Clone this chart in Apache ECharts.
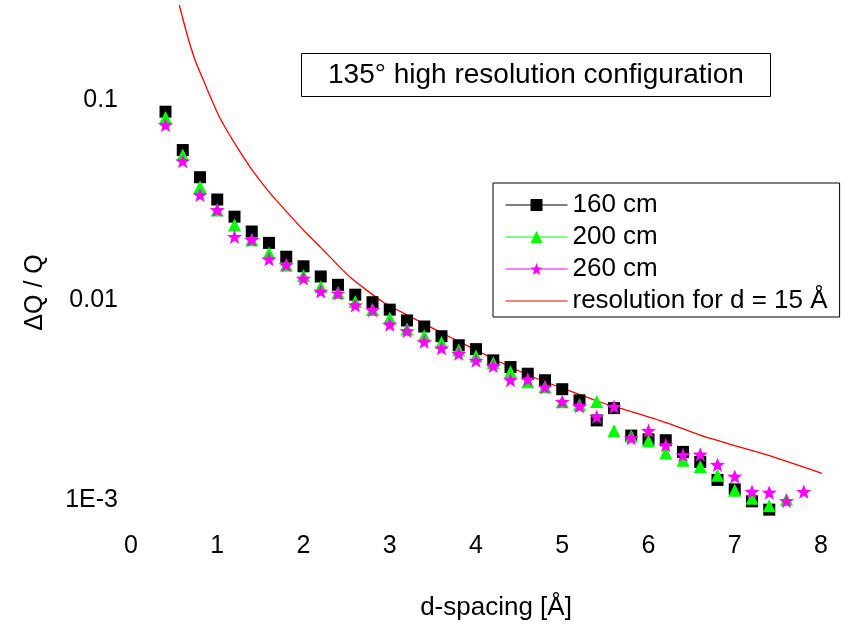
<!DOCTYPE html>
<html>
<head>
<meta charset="utf-8">
<title>135° high resolution configuration</title>
<script src="https://cdn.jsdelivr.net/npm/echarts@6/dist/echarts.min.js"></script>
<style>
    html, body { margin: 0; padding: 0; background: #fff; }
    #chart { width: 849px; height: 630px; }
</style>
</head>
<body>
<div id="chart"></div>
<script>
// d-spacing [Å] of the measured points
var dSpacing = [
    0.4, 0.6, 0.8, 1.0, 1.2, 1.4, 1.6, 1.8, 2.0, 2.2, 2.4, 2.6, 2.8,
    3.0, 3.2, 3.4, 3.6, 3.8, 4.0, 4.2, 4.4, 4.6, 4.8, 5.0, 5.2, 5.4,
    5.6, 5.8, 6.0, 6.2, 6.4, 6.6, 6.8, 7.0, 7.2, 7.4, 7.6, 7.8
];

// dQ/Q per detector distance (null = no point)
var res160 = [
    0.0874, 0.0562, 0.0411, 0.0318, 0.0261, 0.0220, 0.0193, 0.01646, 0.01474, 0.01311, 0.01191, 0.01063, 0.00975,
    0.00895, 0.00790, 0.00737, 0.00659, 0.00594, 0.00568, 0.00499, 0.00462, 0.00428, 0.00397, 0.00358, 0.00315, 0.00250,
    0.00288, 0.00210, 0.00201, 0.00199, 0.00174, 0.00155, 0.00126, 0.00113, 0.000985, 0.000895, null, null
];
var res200 = [
    0.0818, 0.0531, 0.0367, 0.0282, 0.0237, 0.0200, 0.0172, 0.01496, 0.01326, 0.01165, 0.01090, 0.00983, 0.00897,
    0.00813, 0.00716, 0.00662, 0.00613, 0.00562, 0.00525, 0.00486, 0.00438, 0.00390, 0.00368, 0.00310, 0.00299, 0.00311,
    0.00222, 0.00209, 0.00198, 0.00172, 0.00158, 0.00147, 0.00133, 0.00112, 0.00102, 0.000935, 0.00101, null
];
var res260 = [
    0.0750, 0.0495, 0.0335, 0.0282, 0.0207, 0.0200, 0.0160, 0.01496, 0.01281, 0.01103, 0.01080, 0.00941, 0.00891,
    0.00754, 0.00700, 0.00619, 0.00574, 0.00539, 0.00498, 0.00468, 0.00398, 0.00401, 0.00366, 0.00310, 0.00295, 0.00261,
    0.00293, 0.00204, 0.00222, 0.00188, 0.00168, 0.00169, 0.00150, 0.00131, 0.00110, 0.00109, 0.00099, 0.00110
];

// resolution curve for d = 15 Å
var curveD = [
    0.560, 0.646, 0.742, 0.838, 0.936, 1.032, 1.226, 1.418, 1.612, 1.805, 1.998, 2.191, 2.539,
    2.922, 3.316, 3.699, 4.278, 4.661, 5.055, 5.438, 5.820, 6.214, 6.597, 6.980, 7.374, 8.01
];
var curveValues = [
    0.2985, 0.2156, 0.1585, 0.1259, 0.1, 0.0810, 0.0584, 0.0438, 0.0342, 0.0276, 0.0224, 0.01847, 0.01303,
    0.00977, 0.00794, 0.00653, 0.0049, 0.00412, 0.00355, 0.00309, 0.00275, 0.00243, 0.00211, 0.00188, 0.00168, 0.00136
];

var seriesNames = ['160 cm', '200 cm', '260 cm', 'resolution for d = 15 Å'];
var yTicks = [0.001, 0.01, 0.1];
var yTickLabels = ['1E-3', '0.01', '0.1'];

var FONT = 'Liberation Sans, Arial, sans-serif';
var STAR = 'path://M0,-10 L2.47,-3.4 L9.51,-3.09 L3.99,1.3 L5.88,8.09 L0,4.2 '
    + 'L-5.88,8.09 L-3.99,1.3 L-9.51,-3.09 L-2.47,-3.4 Z';

/**
 * pair x values with y values, skipping missing points
 *
 * @param {number[]} xs x values
 * @param {Array} ys y values
 * @return {Array} [x, y] pairs
 */
function pairs(xs, ys) {
    var out = [];
    for (var i = 0; i < ys.length; ++i) {
        if (ys[i] != null) {
            out.push([xs[i], ys[i]]);
        }
    }
    return out;
}

/**
 * marker-only series that still shows a line in the legend
 */
function markerSeries(name, values, color, symbol, size) {
    return {
        type: 'line',
        name: name,
        data: pairs(dSpacing, values),
        symbol: symbol,
        symbolSize: size,
        symbolKeepAspect: true,
        showAllSymbol: true,
        lineStyle: { width: 0, color: color },
        itemStyle: { color: color, borderWidth: 0 },
        emphasis: { disabled: true }
    };
}

var chart = echarts.init(document.getElementById('chart'));

chart.setOption({
    animation: false,
    backgroundColor: '#fff',
    textStyle: { fontFamily: FONT, color: '#000' },
    title: {
        text: '135° high resolution configuration',
        left: 301,
        top: 53,
        padding: [7, 27, 7, 27],
        borderColor: '#000',
        borderWidth: 1,
        textStyle: { fontFamily: FONT, fontSize: 28, fontWeight: 'normal', color: '#000', lineHeight: 30 }
    },
    legend: {
        orient: 'vertical',
        left: 493,
        top: 183,
        padding: [9, 12, 3, 12],
        borderColor: '#000',
        borderWidth: 1,
        itemWidth: 62,
        itemHeight: 15,
        itemGap: 6,
        selectedMode: false,
        textStyle: { fontFamily: FONT, fontSize: 26, color: '#000', lineHeight: 26 },
        data: [
            { name: seriesNames[0], lineStyle: { width: 1, color: '#000' }, itemStyle: { borderWidth: 0 } },
            { name: seriesNames[1], lineStyle: { width: 1, color: '#00ff00' }, itemStyle: { borderWidth: 0 } },
            { name: seriesNames[2], lineStyle: { width: 1, color: '#ff00ff' }, itemStyle: { borderWidth: 0 } },
            { name: seriesNames[3], lineStyle: { width: 1, color: '#ff0000' }, itemStyle: { opacity: 0 } }
        ]
    },
    grid: { left: 131, right: 28, top: 5, bottom: 110, containLabel: false },
    xAxis: {
        type: 'value',
        min: 0,
        max: 8,
        interval: 1,
        name: 'd-spacing [Å]',
        nameLocation: 'middle',
        nameGap: 75,
        nameTextStyle: { fontFamily: FONT, fontSize: 26, color: '#000', padding: [0, 0, 0, 40] },
        axisLine: { show: false },
        axisTick: { show: false },
        splitLine: { show: false },
        axisLabel: { fontFamily: FONT, fontSize: 25, color: '#000', margin: 14 }
    },
    yAxis: {
        type: 'log',
        logBase: 10,
        min: Math.pow(10, -3.1),
        max: Math.pow(10, -0.525),
        name: 'ΔQ / Q',
        nameLocation: 'middle',
        nameGap: 83,
        nameTextStyle: { fontFamily: FONT, fontSize: 25, color: '#000', padding: [0, 60, 0, 0] },
        axisLine: { show: false },
        axisTick: { show: false },
        splitLine: { show: false },
        axisLabel: {
            fontFamily: FONT,
            fontSize: 25,
            color: '#000',
            margin: 13,
            showMinLabel: false,
            showMaxLabel: false,
            formatter: function (v) {
                for (var i = 0; i < yTicks.length; ++i) {
                    if (Math.abs(Math.log(v / yTicks[i])) < 1e-6) {
                        return yTickLabels[i];
                    }
                }
                return '';
            }
        }
    },
    series: [
        markerSeries(seriesNames[0], res160, '#000000', 'rect', 12),
        markerSeries(seriesNames[1], res200, '#00ff00', 'triangle', 13),
        markerSeries(seriesNames[2], res260, '#ff00ff', STAR, 15),
        {
            type: 'line',
            name: seriesNames[3],
            data: pairs(curveD, curveValues),
            symbol: 'none',
            smooth: 0.2,
            lineStyle: { width: 1.3, color: '#ff0000' },
            itemStyle: { color: '#ff0000' },
            emphasis: { disabled: true }
        }
    ]
});
</script>
</body>
</html>
